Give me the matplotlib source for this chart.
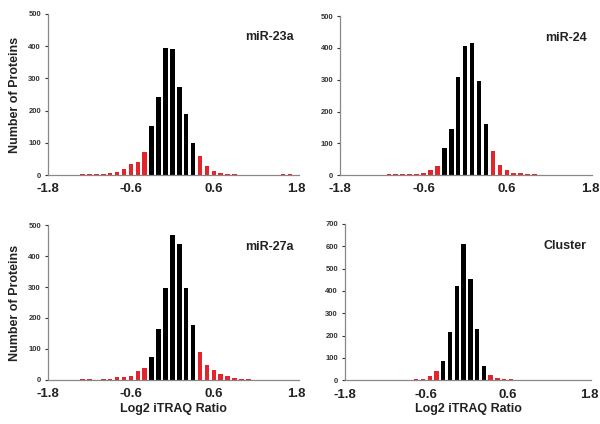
import matplotlib
matplotlib.use('Agg')
import matplotlib.pyplot as plt
import numpy as np

plt.rcParams['font.family'] = ['Liberation Sans', 'DejaVu Sans']
plt.rcParams['font.weight'] = 'bold'

# ---- data ----
# bin centres step 0.1; Cluster panel is offset by half a bin
bins_a = [-1.3, -1.2, -1.1, -1.0, -0.9, -0.8, -0.7, -0.6, -0.5, -0.4,
          -0.3, -0.2, -0.1, 0.0, 0.1, 0.2, 0.3,
          0.4, 0.5, 0.6, 0.7, 0.8, 0.9, 1.0, 1.6, 1.7]
mir23a = [3, 3, 3, 2, 8, 11, 19, 36, 40, 73,
          151, 243, 394, 391, 274, 190, 100,
          59, 27, 14, 7, 4, 2, 1, 2, 2]

bins_b = [-1.2, -1.1, -1.0, -0.9, -0.8, -0.7, -0.6, -0.5, -0.4,
          -0.3, -0.2, -0.1, 0.0, 0.1, 0.2, 0.3,
          0.4, 0.5, 0.6, 0.7, 0.8, 0.9, 1.0, 1.1, 1.2]
mir24 = [1, 2, 3, 3, 4, 5, 8, 15, 30,
         85, 145, 310, 405, 415, 295, 160,
         75, 32, 15, 8, 6, 4, 2, 1, 1]

bins_c = [-1.3, -1.2, -1.0, -0.9, -0.8, -0.7, -0.6, -0.5, -0.4,
          -0.3, -0.2, -0.1, 0.0, 0.1, 0.2, 0.3,
          0.4, 0.5, 0.6, 0.7, 0.8, 0.9, 1.0, 1.1]
mir27a = [3, 3, 2, 4, 10, 9, 12, 30, 40,
          74, 166, 296, 469, 438, 296, 177,
          89, 47, 33, 20, 12, 6, 4, 3]

bins_d = [-0.85, -0.75, -0.65, -0.55, -0.45,
          -0.35, -0.25, -0.15, -0.05, 0.05, 0.15, 0.25,
          0.35, 0.45, 0.55, 0.65]
cluster = [3, 5, 8, 18, 40,
           85, 215, 420, 608, 455, 230, 62,
           25, 10, 5, 4]

# name, bins, counts, y max, black range (low, high)
panels = [
    ('miR-23a', bins_a, mir23a, 500, (-0.3, 0.3)),
    ('miR-24', bins_b, mir24, 500, (-0.3, 0.3)),
    ('miR-27a', bins_c, mir27a, 500, (-0.3, 0.3)),
    ('Cluster', bins_d, cluster, 700, (-0.35, 0.25)),
]

# axes rectangles [left, bottom, width, height] in figure fractions
rects = [
    [0.080, 0.587, 0.418, 0.380],
    [0.567, 0.587, 0.420, 0.375],
    [0.080, 0.104, 0.418, 0.365],
    [0.575, 0.103, 0.410, 0.369],
]

fig = plt.figure(figsize=(6, 4.24), dpi=100)

for i, (name, bins, counts, ymax, (lo, hi)) in enumerate(panels):
    ax = fig.add_axes(rects[i])
    bins = np.array(bins)
    counts = np.array(counts)
    inside = (bins >= lo - 1e-9) & (bins <= hi + 1e-9)
    colors = np.where(inside, 'black', '#e3242b')
    ax.bar(bins, counts, width=0.065, color=colors)

    ax.set_xlim(-1.8, 1.83)
    ax.set_ylim(0, ymax)
    ax.set_xticks([-1.8, -0.6, 0.6, 1.8])
    ax.set_xticklabels(['-1.8', '-0.6', '0.6', '1.8'])
    ax.set_yticks(np.arange(0, ymax + 1, 100))
    ax.tick_params(axis='x', labelsize=9.5, length=0, pad=6, colors='#222222')
    ax.tick_params(axis='y', labelsize=5.5, length=2, pad=3, colors='#333333')
    for s in ['top', 'right']:
        ax.spines[s].set_visible(False)
    for s in ['left', 'bottom']:
        ax.spines[s].set_color('#888888')
        ax.spines[s].set_linewidth(0.9)

    ax.text(0.98, 0.86, name, transform=ax.transAxes, ha='right', va='center',
            fontsize=9, fontweight='bold', color='#222222')

    if i % 2 == 0:
        ax.set_ylabel('Number of Proteins', fontsize=9, fontweight='bold',
                      color='#222222', labelpad=5)
    if i >= 2:
        ax.set_xlabel('Log2 iTRAQ Ratio', fontsize=9, fontweight='bold',
                      color='#222222', labelpad=2)

fig.savefig('out.png', dpi=100)
